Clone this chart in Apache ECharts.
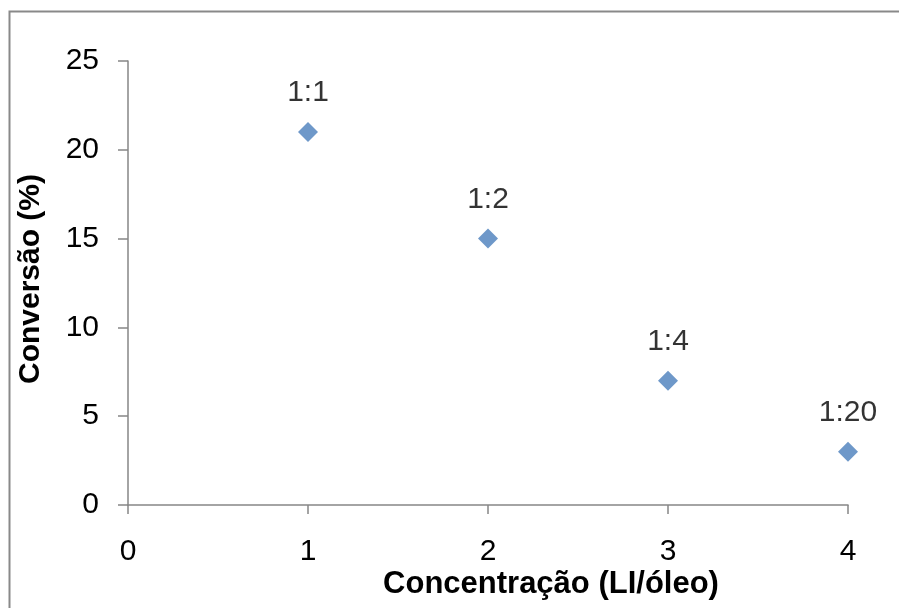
<!DOCTYPE html>
<html>
<head>
<meta charset="utf-8">
<script src="https://cdn.jsdelivr.net/npm/echarts@6/dist/echarts.min.js"></script>
<style>
html,body{margin:0;padding:0;background:#fff;}
#chart{width:899px;height:608px;}
</style>
</head>
<body>
<div id="chart"></div>
<script>
const xValues = [1, 2, 3, 4];
const conversion = [21, 15, 7, 3];
const ratioLabels = ['1:1', '1:2', '1:4', '1:20'];
const xTitle = 'Concentração (LI/óleo)';
const yTitle = 'Conversão (%)';

const FONT = '"Liberation Sans", Arial, sans-serif';
const AXIS_COLOR = '#868686';

const chart = echarts.init(document.getElementById('chart'), null, {renderer: 'canvas'});

const points = xValues.map((x, i) => [x, conversion[i]]);

chart.setOption({
  animation: false,
  backgroundColor: '#ffffff',
  grid: {left: 128, right: 51, top: 61, bottom: 103, containLabel: false},
  xAxis: {
    type: 'value', min: 0, max: 4, interval: 1,
    splitLine: {show: false},
    axisLine: {show: true, onZero: false, lineStyle: {color: AXIS_COLOR, width: 1.5}},
    axisTick: {show: true, inside: false, length: 9, lineStyle: {color: AXIS_COLOR, width: 1.5}},
    axisLabel: {color: '#000', fontFamily: FONT, fontSize: 30, margin: 32}
  },
  yAxis: {
    type: 'value', min: 0, max: 25, interval: 5,
    splitLine: {show: false},
    axisLine: {show: true, onZero: false, lineStyle: {color: AXIS_COLOR, width: 1.5}},
    axisTick: {show: true, inside: false, length: 10, lineStyle: {color: AXIS_COLOR, width: 1.5}},
    axisLabel: {color: '#000', fontFamily: FONT, fontSize: 30, margin: 29}
  },
  series: [{
    type: 'scatter',
    symbol: 'diamond',
    symbolSize: 20,
    itemStyle: {color: '#4A7EBB'},
    data: points,
    label: {
      show: true,
      position: 'top',
      distance: 14,
      color: '#000',
      fontFamily: FONT,
      fontSize: 30,
      formatter: (p) => ratioLabels[p.dataIndex]
    }
  }],
  graphic: [
    {
      type: 'rect', silent: true, z: 100,
      shape: {x: 9.5, y: 11.5, width: 1200, height: 1200},
      style: {fill: 'none', stroke: '#898989', lineWidth: 2}
    },
    {
      type: 'text', silent: true,
      x: 551, y: 584,
      style: {
        text: xTitle, fontFamily: FONT, fontWeight: 'bold', fontSize: 31,
        fill: '#000', textAlign: 'center', textVerticalAlign: 'middle'
      }
    },
    {
      type: 'text', silent: true,
      x: 31, y: 279, rotation: Math.PI / 2,
      style: {
        text: yTitle, fontFamily: FONT, fontWeight: 'bold', fontSize: 30,
        fill: '#000', textAlign: 'center', textVerticalAlign: 'middle'
      }
    }
  ]
});
</script>
</body>
</html>
